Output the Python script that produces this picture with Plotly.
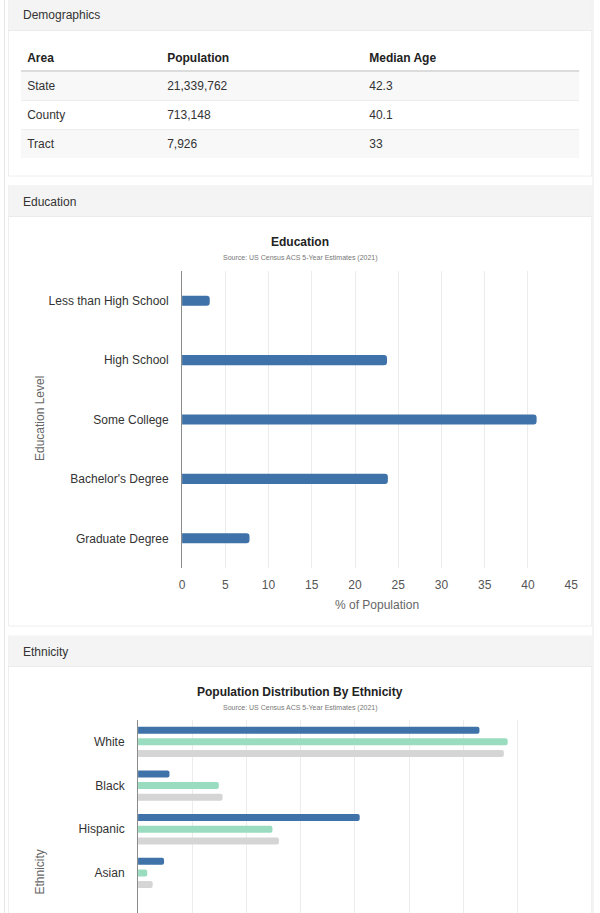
import plotly.graph_objects as go

W, H = 600, 913

# ---------------- data ----------------
table_columns = ["Area", "Population", "Median Age"]
table_areas = ["State", "County", "Tract"]
table_population = ["21,339,762", "713,148", "7,926"]
table_median_age = ["42.3", "40.1", "33"]

edu_levels = ["Less than High School", "High School", "Some College",
              "Bachelor's Degree", "Graduate Degree"]
edu_pct = [3.2, 23.7, 41.0, 23.8, 7.8]
edu_ticks = [0, 5, 10, 15, 20, 25, 30, 35, 40, 45]

eth_groups = ["White", "Black", "Hispanic", "Asian"]
eth_tract = [63.0, 5.8, 40.9, 4.8]
eth_county = [68.2, 14.9, 24.8, 1.7]
eth_state = [67.5, 15.6, 26.0, 2.7]
eth_series = ["Tract", "County", "State"]
eth_ticks = [0, 10, 20, 30, 40, 50, 60, 70, 80]

source_text = "Source: US Census ACS 5-Year Estimates (2021)"

# ---------------- style ----------------
FONT = "Liberation Sans, Arial, Helvetica, sans-serif"
BLUE = "#3e72a8"
GREEN = "#9adcbf"
GRAY = "#d5d5d5"
HEADER_BG = "#f4f4f4"
GRID = "#ececec"
STRIPE = "#f8f8f8"

# horizontal calibration of the photographed page (measured offset / scale)
X_OFF, X_SCALE = 3.0, 0.983


def px(x):
    v = (x - X_OFF) / X_SCALE
    return min(max(v, 0), W) / W


def py(y):
    return 1 - min(max(y, 0), H) / H


shapes = []


def rect(x0, y0, x1, y1, fill=None, line=None, lw=1, layer="below"):
    shapes.append(dict(type="rect", xref="paper", yref="paper",
                       x0=px(x0), x1=px(x1), y0=py(y1), y1=py(y0),
                       fillcolor=fill if fill else "rgba(0,0,0,0)",
                       line=dict(color=line if line else "rgba(0,0,0,0)", width=lw if line else 0),
                       layer=layer))


def hline(x0, x1, y, color, lw=1, layer="below"):
    shapes.append(dict(type="line", xref="paper", yref="paper",
                       x0=px(x0), x1=px(x1), y0=py(y), y1=py(y),
                       line=dict(color=color, width=lw), layer=layer))


def vline(x, y0, y1, color, lw=1, layer="below"):
    shapes.append(dict(type="line", xref="paper", yref="paper",
                       x0=px(x), x1=px(x), y0=py(y0), y1=py(y1),
                       line=dict(color=color, width=lw), layer=layer))


# outer container borders
vline(4.5, 0, H, "#e6e6e6")
vline(593.5, 0, H, "#e9e9e9")

# section cards (fills)
rect(8.5, 0, 591.5, 176, fill="white")
rect(8.5, 185, 591.5, 626, fill="white")
rect(8.5, 635.5, 591.5, H, fill="white")
for (a, b) in [(0, 176), (185, 626), (635.5, H)]:
    vline(8.5, a, b, "#eeeeee")
    vline(591.5, a, b, "#eeeeee")
hline(8.5, 591.5, 176, "#eeeeee")
hline(8.5, 591.5, 626, "#eeeeee")
# section headers
rect(8.5, 0, 591.5, 30.5, fill=HEADER_BG)
rect(8.5, 185, 591.5, 216.5, fill=HEADER_BG)
rect(8.5, 635.5, 591.5, 666.5, fill=HEADER_BG)
hline(8.5, 591.5, 30.5, "#ebebeb")
hline(8.5, 591.5, 216.5, "#ebebeb")
hline(8.5, 591.5, 666.5, "#ebebeb")

# table striping and rules (styling behind the table trace)
rect(21, 71, 579, 100, fill=STRIPE)
rect(21, 129, 579, 158, fill=STRIPE)
hline(21, 579, 100.5, "#ededed")
hline(21, 579, 129.5, "#ededed")
hline(21, 579, 71, "#dcdcdc", lw=2)

annotations = []


def text(x, y, s, size=12, color="#333", anchor="left", bold=False, angle=0):
    annotations.append(dict(xref="paper", yref="paper", x=px(x), y=py(y),
                            text=f"<b>{s}</b>" if bold else s, showarrow=False,
                            xanchor=anchor, yanchor="middle", textangle=angle,
                            font=dict(family=FONT, size=size, color=color)))


text(21, 15.5, "Demographics")
text(21, 201.5, "Education")
text(21, 651.5, "Ethnicity")

text(300, 242, "Education", size=12, color="#222", anchor="center", bold=True)
text(300, 258, source_text, size=7, color="#777", anchor="center")
text(300, 691.5, "Population Distribution By Ethnicity", size=12, color="#222", anchor="center", bold=True)
text(300, 707.5, source_text, size=7, color="#777", anchor="center")

text(376.5, 605, "% of Population", size=12, color="#666", anchor="center")
text(40, 419, "Education Level", size=12, color="#666", anchor="center", angle=-90)
text(39, 872.5, "Ethnicity", size=12, color="#666", anchor="center", angle=-90)

# ---------------- table ----------------
CLEAR = "rgba(0,0,0,0)"
PAD = 8  # plotly table cell text padding
col_text_x = [27, 167, 369]
col_edges = [px(c) * W - PAD for c in col_text_x] + [px(560) * W]
col_widths = [col_edges[i + 1] - col_edges[i] for i in range(3)]

fig = go.Figure()
fig.add_trace(go.Table(
    domain=dict(x=[col_edges[0] / W, col_edges[-1] / W], y=[py(162), py(43)]),
    columnwidth=col_widths,
    header=dict(values=[f"<b>{c}</b>" for c in table_columns],
                fill_color=CLEAR, line_color=CLEAR, align="left",
                font=dict(family=FONT, size=12, color="#222"), height=28),
    cells=dict(values=[table_areas, table_population, table_median_age],
               fill_color=CLEAR, line_color=CLEAR, align="left",
               font=dict(family=FONT, size=12, color="#333"), height=29),
))

fig.add_trace(go.Bar(
    x=edu_pct, y=edu_levels, orientation="h", width=0.17,
    marker=dict(color=BLUE, cornerradius=3, line=dict(width=0)),
    xaxis="x", yaxis="y", name="Education", hoverinfo="x+y",
))

for vals, color, name in zip([eth_tract, eth_county, eth_state], [BLUE, GREEN, GRAY], eth_series):
    fig.add_trace(go.Bar(
        x=vals, y=eth_groups, orientation="h", name=name,
        marker=dict(color=color, cornerradius=2, line=dict(width=0)),
        xaxis="x2", yaxis="y2",
    ))

band_e = 43.7
dom_top_e = 720.0
span = (H - dom_top_e) / band_e

fig.update_layout(
    width=W, height=H,
    margin=dict(l=0, r=0, t=0, b=0),
    paper_bgcolor="white", plot_bgcolor="rgba(0,0,0,0)",
    showlegend=False,
    barmode="group", bargap=0.2, bargroupgap=0.4,
    font=dict(family=FONT, size=12, color="#333"),
    shapes=shapes, annotations=annotations,
    xaxis=dict(domain=[px(182), px(571)], anchor="y", range=[0, 45],
               tickvals=edu_ticks, showgrid=True, gridcolor=GRID, gridwidth=1,
               zeroline=False, showline=False, ticks="",
               ticklabelstandoff=8,
               tickfont=dict(family=FONT, size=12, color="#555")),
    yaxis=dict(domain=[py(568), py(271)], anchor="x", type="category",
               categoryorder="array", categoryarray=edu_levels,
               range=[4.5, -0.5], showgrid=False, zeroline=False,
               showline=True, linecolor="#8a8a8a", linewidth=1, ticks="",
               ticklabelstandoff=10,
               tickfont=dict(family=FONT, size=12, color="#333")),
    xaxis2=dict(domain=[px(138), px(571.4)], anchor="y2", range=[0, 80],
                tickvals=eth_ticks, showgrid=True, gridcolor=GRID, gridwidth=1,
                zeroline=False, showline=False, ticks="", showticklabels=False),
    yaxis2=dict(domain=[0, py(dom_top_e)], anchor="x2", type="category",
                categoryorder="array", categoryarray=eth_groups,
                range=[span - 0.5, -0.5], showgrid=False, zeroline=False,
                showline=True, linecolor="#8a8a8a", linewidth=1, ticks="",
                ticklabelstandoff=10,
                tickfont=dict(family=FONT, size=12, color="#333")),
)

fig.write_html("out.html", config={"displayModeBar": False},
               post_script="document.body.style.margin='0';document.body.style.overflow='hidden';")
